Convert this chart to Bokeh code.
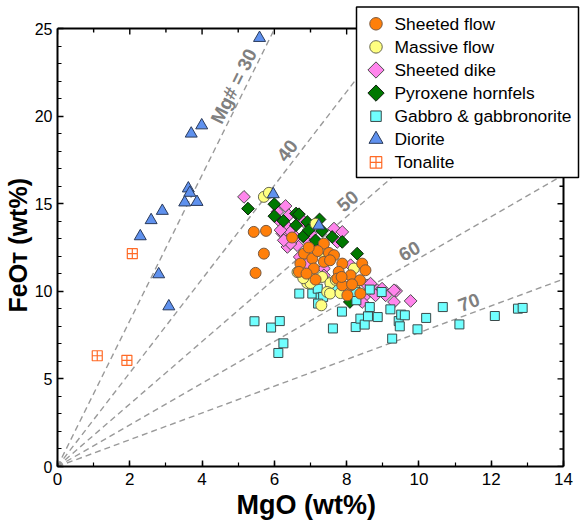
import math

from bokeh.core.properties import value
from bokeh.embed import file_html
from bokeh.models import Range1d, SingleIntervalTicker, Title
from bokeh.plotting import figure
from bokeh.resources import INLINE

# ---- sample groups: MgO (wt%) and FeOT (wt%) ----
flow_mgo = [5.43, 5.77, 5.71, 5.48, 6.49, 7.37, 6.82, 7.05, 6.72, 7.51, 7.65, 7.37, 7.09, 6.68,
            7.88, 7.78, 7.74, 8.11, 8.43, 8.52, 8.37, 8.11, 7.88, 8.38, 8.02, 7.14, 6.89, 7.54,
            7.86, 8.15, 7.20, 6.95]
flow_feo = [13.39, 13.45, 12.15, 11.05, 13.07, 12.72, 12.15, 11.87, 11.58, 12.19, 12.06, 11.68,
            11.30, 11.11, 11.58, 11.11, 10.72, 10.91, 11.58, 11.20, 10.63, 10.34, 10.34, 9.87,
            9.77, 10.67, 11.01, 11.77, 10.82, 10.40, 12.30, 12.50]

massive_mgo = [5.71, 5.85, 7.14, 7.30, 6.64, 6.95, 6.91, 7.32, 7.55, 7.46, 8.20, 8.27, 7.00,
               7.30, 7.54, 7.83, 7.70, 6.80]
massive_feo = [15.39, 15.62, 13.85, 12.25, 11.09, 10.91, 10.47, 10.82, 10.47, 9.96, 11.30, 10.53,
               10.47, 9.20, 9.87, 9.90, 10.65, 10.75]

dike_mgo = [5.16, 6.31, 6.40, 6.08, 6.17, 6.22, 6.26, 6.36, 6.63, 6.36, 6.45, 7.65, 7.88, 7.37,
            7.69, 8.57, 8.85, 8.48, 8.80, 9.08, 9.37, 9.31, 9.77, 8.11, 8.43, 7.74, 6.45, 9.31,
            8.98, 8.66, 7.37, 6.91, 6.70, 6.17, 6.26, 6.59, 6.91, 6.80, 7.00, 7.10]
dike_feo = [15.39, 14.87, 14.34, 14.53, 13.96, 13.30, 13.39, 12.53, 12.63, 13.68, 12.72, 13.58,
            13.39, 11.30, 10.63, 10.34, 10.06, 9.67, 9.77, 9.77, 10.02, 9.39, 9.45, 11.49, 9.39,
            12.82, 13.39, 10.06, 10.15, 10.44, 10.91, 11.58, 11.96, 13.49, 12.91, 13.10, 12.91,
            14.00, 13.30, 12.60]

hornfels_mgo = [5.27, 6.00, 6.00, 6.25, 6.60, 6.60, 6.68, 6.91, 6.80, 7.14, 7.60, 7.88, 8.29,
                6.95, 7.32, 8.09, 7.25]
hornfels_feo = [14.72, 14.97, 14.29, 14.02, 14.44, 13.77, 14.40, 13.96, 13.14, 12.91, 13.10,
                12.82, 12.15, 13.49, 13.45, 9.39, 14.10]

gabbro_mgo = [5.45, 5.91, 6.15, 6.25, 6.11, 6.69, 7.05, 7.20, 7.28, 7.35, 7.21, 7.62, 7.87, 8.25,
              8.38, 8.50, 8.59, 8.64, 8.64, 8.27, 8.86, 8.97, 9.21, 9.26, 9.44, 9.47, 9.51, 9.61,
              9.96, 10.20, 10.66, 11.12, 12.10, 12.74, 12.87, 7.55, 7.74, 8.25]
gabbro_feo = [8.29, 7.93, 8.30, 7.03, 6.48, 9.87, 9.87, 10.15, 9.64, 9.68, 9.30, 7.88, 8.84,
              7.96, 8.44, 8.10, 8.57, 9.10, 10.10, 9.49, 8.53, 9.96, 8.97, 7.30, 8.30, 8.00,
              8.67, 8.63, 7.83, 8.48, 9.10, 8.11, 8.59, 9.01, 9.05, 10.06, 10.25, 9.96]

diorite_mgo = [5.59, 3.70, 3.99, 3.62, 3.66, 3.52, 3.86, 2.90, 2.59, 2.29, 2.80, 3.08, 5.97, 7.23]
diorite_feo = [24.46, 19.00, 19.47, 15.87, 15.62, 15.07, 15.10, 14.59, 14.06, 13.14, 10.97,
               9.14, 15.54, 13.75]

tonalite_mgo = [2.07, 1.10, 1.92]
tonalite_feo = [12.15, 6.32, 6.06]

legend_labels = ["Sheeted flow", "Massive flow", "Sheeted dike", "Pyroxene hornfels",
                 "Gabbro & gabbronorite", "Diorite", "Tonalite"]

# ---- constant Mg# reference lines ----
mg_numbers = [30, 40, 50, 60, 70]
mg_label_text = ["Mg# = 30", "40", "50", "60", "70"]
mg_label_mgo = [5.15, 6.60, 8.23, 9.89, 11.49]   # where each label sits along its line

M_FEO, M_MGO = 71.85, 40.30

# ---- layout (pixels) ----
W, H = 580, 523
BOX_L, BOX_R, BOX_T, BOX_B = 57, 563, 28, 466     # the axes box
X_MAX, Y_MAX = 14, 25
PX_X = (BOX_R - BOX_L) / X_MAX
PX_Y = (BOX_B - BOX_T) / Y_MAX
# the plotting frame reaches the canvas top and right edge so the legend can overhang the box
X_END = (W - BOX_L) / PX_X
Y_END = BOX_B / PX_Y

FONT = "Liberation Sans"


def x_at(sx):
    return (sx - BOX_L) / PX_X


def y_at(sy):
    return (BOX_B - sy) / PX_Y


p = figure(width=W, height=H, x_range=Range1d(0, X_END), y_range=Range1d(0, Y_END),
           output_backend="svg", toolbar_location=None,
           min_border_left=BOX_L, min_border_right=0,
           min_border_top=0, min_border_bottom=H - BOX_B)
p.outline_line_color = None
p.xgrid.visible = False
p.ygrid.visible = False
p.background_fill_color = "white"
p.border_fill_color = "white"

X_MAJOR, X_MINOR_N = 2, 2
Y_MAJOR, Y_MINOR_N = 5, 5
MAJOR_LEN, MINOR_LEN = 6, 4

for ax in (p.xaxis[0], p.yaxis[0]):
    ax.axis_line_width = 2
    ax.axis_line_color = "black"
    ax.major_tick_in = MAJOR_LEN
    ax.major_tick_out = 0
    ax.minor_tick_in = MINOR_LEN
    ax.minor_tick_out = 0
    ax.major_tick_line_width = 1.5
    ax.minor_tick_line_width = 1.2
    ax.major_label_text_font = FONT
    ax.major_label_text_color = "black"

p.xaxis.ticker = SingleIntervalTicker(interval=X_MAJOR, num_minor_ticks=X_MINOR_N)
p.yaxis.ticker = SingleIntervalTicker(interval=Y_MAJOR, num_minor_ticks=Y_MINOR_N)
p.xaxis.bounds = (0, X_MAX)
p.yaxis.bounds = (0, Y_MAX)
p.xaxis.major_label_text_font_size = "17px"
p.yaxis.major_label_text_font_size = "16px"
p.xaxis.major_label_standoff = 6
p.yaxis.major_label_standoff = 5

# axis titles, placed along the box rather than the wider frame
X_TITLE_START = 236    # left end of the x title
Y_TITLE_START = 312    # lower end of the y title
p.add_layout(Title(text="MgO (wt%)", align="left", offset=X_TITLE_START - BOX_L, standoff=1,
                   text_font=FONT, text_font_size="27px", text_font_style="bold",
                   text_color="black"), "below")
p.add_layout(Title(text="FeOᴛ (wt%)", align="left", offset=BOX_B - Y_TITLE_START, standoff=0,
                   text_font=FONT, text_font_size="25px", text_font_style="bold",
                   text_color="black"), "left")

# top and right sides of the box, with inward ticks
p.segment(x0=[0, X_MAX], y0=[Y_MAX, 0], x1=[X_MAX, X_MAX], y1=[Y_MAX, Y_MAX],
          line_color="black", line_width=2)
top_x = [i / X_MINOR_N * X_MAJOR for i in range(0, X_MAX // X_MAJOR * X_MINOR_N + 1)]
top_len = [(MAJOR_LEN if i % X_MINOR_N == 0 else MINOR_LEN) / PX_Y for i in range(len(top_x))]
p.segment(x0=top_x, y0=[Y_MAX] * len(top_x), x1=top_x, y1=[Y_MAX - d for d in top_len],
          line_color="black", line_width=1.4)
right_y = [i / Y_MINOR_N * Y_MAJOR for i in range(0, Y_MAX // Y_MAJOR * Y_MINOR_N + 1)]
right_len = [(MAJOR_LEN if i % Y_MINOR_N == 0 else MINOR_LEN) / PX_X for i in range(len(right_y))]
p.segment(x0=[X_MAX] * len(right_y), y0=right_y, x1=[X_MAX - d for d in right_len], y1=right_y,
          line_color="black", line_width=1.4)

# Mg# lines through the origin: FeO = k * MgO, stopped at the box edge
for mg, txt, xm in zip(mg_numbers, mg_label_text, mg_label_mgo):
    k = (M_FEO / M_MGO) * (100 - mg) / mg
    x_end = min(X_MAX, Y_MAX / k)
    p.line([0, x_end], [0, k * x_end], line_color="#9a9a9a", line_width=1.4, line_dash="6 4")
    theta = math.atan(k * PX_Y / PX_X)
    gap = 11
    lx = xm - gap * math.sin(theta) / PX_X
    ly = k * xm + gap * math.cos(theta) / PX_Y
    p.text(x=[lx], y=[ly], text=[txt], angle=theta, text_align="center",
           text_baseline="middle", text_font=value(FONT), text_font_style="bold",
           text_font_size="19px", text_color="#808080")

# marker styles: (marker, plot size, legend size, angle, fill, line, line width)
STYLES = {
    "flow": ("circle", 11, 12.5, 0, "#FF7F0A", "#7a5a40", 1),
    "massive": ("circle", 11, 12.5, 0, "#FFFF80", "#6a6a50", 1),
    "dike": ("square", 9, 11.5, math.pi / 4, "#FF85EC", "#4d4d4d", 1),
    "hornfels": ("square", 9, 11.5, math.pi / 4, "#007800", "#102010", 1),
    "gabbro": ("square", 9, 10.5, 0, "#70FFFF", "#3a4a4a", 1),
    "diorite": ("triangle", 12, 14, 0, "#5F91EE", "#2a3a5a", 1),
    "tonalite": ("square_cross", 10, 11.5, 0, "white", "#FF6A26", 1.2),
}


def plot_group(key, xs, ys):
    marker, size, _, angle, fill, line, lw = STYLES[key]
    p.scatter(xs, ys, marker=marker, size=size, angle=angle,
              fill_color=fill, line_color=line, line_width=lw)


plot_group("dike", dike_mgo, dike_feo)
plot_group("hornfels", hornfels_mgo, hornfels_feo)
plot_group("gabbro", gabbro_mgo, gabbro_feo)
plot_group("massive", massive_mgo, massive_feo)
plot_group("flow", flow_mgo, flow_feo)
plot_group("diorite", diorite_mgo, diorite_feo)
plot_group("tonalite", tonalite_mgo, tonalite_feo)

# legend box, swatches and labels
LEG_L, LEG_R, LEG_T, LEG_B = 356, 578, 6.5, 177
ROW0, ROW_STEP = 23.3, 23.1
SWATCH_X, TEXT_X = 375.5, 394
p.quad(left=[x_at(LEG_L)], right=[x_at(LEG_R)], top=[y_at(LEG_T)], bottom=[y_at(LEG_B)],
       fill_color="white", line_color="black", line_width=1.5)
legend_keys = ["flow", "massive", "dike", "hornfels", "gabbro", "diorite", "tonalite"]
for i, (key, label) in enumerate(zip(legend_keys, legend_labels)):
    marker, _, lsize, angle, fill, line, lw = STYLES[key]
    row_y = y_at(ROW0 + i * ROW_STEP)
    p.scatter([x_at(SWATCH_X)], [row_y], marker=marker, size=lsize, angle=angle,
              fill_color=fill, line_color=line, line_width=lw)
    p.text(x=[x_at(TEXT_X)], y=[row_y], text=[label], text_align="left",
           text_baseline="middle", text_font=value(FONT), text_font_size="17.4px",
           text_color="black")

open("out.html", "w").write(file_html(p, INLINE))
